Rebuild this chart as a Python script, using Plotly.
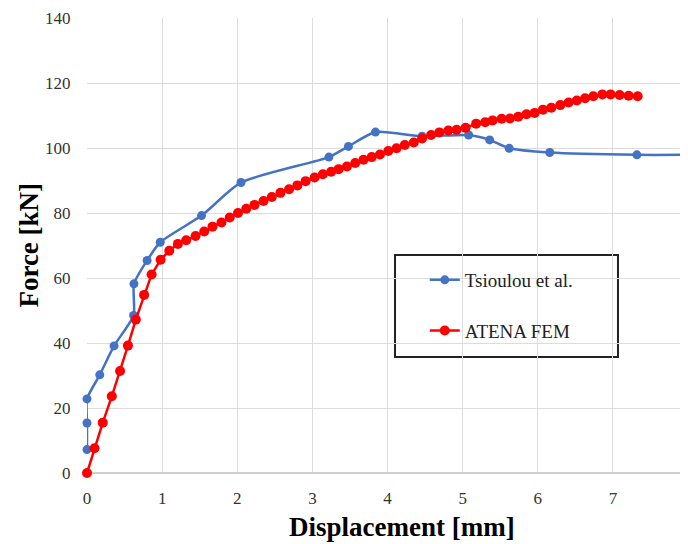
import plotly.graph_objects as go

# Tsioulou et al. (experimental)
tsioulou_x = [0.0, 0.0, 0.0, 0.17, 0.36, 0.62, 0.625, 0.80, 0.975, 1.525, 2.05,
              3.22, 3.48, 3.84, 4.46, 5.08, 5.36, 5.62, 6.16, 7.32, 7.95]
tsioulou_y = [7.2, 15.4, 22.8, 30.2, 39.1, 48.5, 58.2, 65.4, 71.0, 79.2, 89.4,
              97.2, 100.5, 104.9, 103.6, 104.0, 102.5, 99.9, 98.6, 97.9, 97.9]

# ATENA FEM
atena_x = [0.0, 0.10, 0.21, 0.33, 0.44, 0.545, 0.65, 0.76, 0.86, 0.98, 1.095, 1.21,
           1.32, 1.445, 1.56, 1.67, 1.79, 1.90, 2.01, 2.12, 2.23, 2.35, 2.46, 2.575,
           2.69, 2.80, 2.91, 3.03, 3.14, 3.25, 3.35, 3.46, 3.57, 3.68, 3.79, 3.90,
           4.01, 4.12, 4.23, 4.35, 4.46, 4.58, 4.69, 4.81, 4.92, 5.04, 5.18, 5.30,
           5.40, 5.52, 5.63, 5.74, 5.85, 5.96, 6.07, 6.18, 6.30, 6.41, 6.52, 6.63,
           6.74, 6.86, 6.97, 7.09, 7.21, 7.33]
atena_y = [0.0, 7.6, 15.5, 23.6, 31.4, 39.2, 47.2, 54.8, 61.1, 65.6, 68.4, 70.5,
           71.6, 72.9, 74.3, 75.8, 77.1, 78.6, 80.0, 81.3, 82.5, 83.7, 84.9, 86.2,
           87.3, 88.5, 89.8, 90.9, 91.9, 92.7, 93.5, 94.3, 95.4, 96.4, 97.2, 98.0,
           99.1, 99.9, 100.9, 101.7, 102.9, 104.0, 104.8, 105.4, 105.6, 106.2, 107.5, 107.9,
           108.5, 109.0, 109.1, 109.6, 110.4, 110.8, 111.8, 112.4, 113.2, 114.0, 114.6, 115.3,
           115.9, 116.5, 116.5, 116.3, 116.1, 115.9]

x_ticks = [0, 1, 2, 3, 4, 5, 6, 7, 8]
y_ticks = [0, 20, 40, 60, 80, 100, 120, 140]

SERIF = "Liberation Serif"
SANS_NARROW = "Liberation Sans Narrow"

fig = go.Figure()
fig.add_trace(go.Scatter(
    x=tsioulou_x, y=tsioulou_y, mode="lines+markers", name="Tsioulou et al.",
    line=dict(color="#4472C4", width=2.5, shape="spline", smoothing=0.6),
    marker=dict(color="#4472C4", size=9),
    cliponaxis=False, legendgroup="a",
))
fig.add_trace(go.Scatter(
    x=atena_x, y=atena_y, mode="lines+markers", name="ATENA FEM",
    line=dict(color="#FF0000", width=2.5),
    marker=dict(color="#FF0000", size=10),
    cliponaxis=False, legendgroup="b",
))

annotations = [
    dict(text="<b>Displacement [mm]</b>", xref="paper", yref="paper",
         x=0.524, y=-0.118, xanchor="center", yanchor="middle", showarrow=False,
         font=dict(family=SERIF, size=27, color="black")),
    dict(text="<b>Force [kN]</b>", xref="paper", yref="paper",
         x=-0.098, y=0.5, xanchor="center", yanchor="middle", showarrow=False,
         textangle=-90,
         font=dict(family=SERIF, size=27, color="black")),
]
# last x tick label sits on the right edge of the figure (partially visible)
annotations.append(dict(
    text=str(x_ticks[-1]), xref="x", yref="paper", x=x_ticks[-1], y=-0.053,
    xanchor="center", yanchor="middle", showarrow=False,
    font=dict(family=SANS_NARROW, size=17, color="#333333"),
))

fig.update_layout(
    width=680, height=536,
    margin=dict(l=79, r=0, t=10, b=71, autoexpand=False),
    paper_bgcolor="white", plot_bgcolor="white",
    showlegend=True,
    legend=dict(
        x=0.562, y=0.466, xanchor="left", yanchor="top",
        bgcolor="rgba(0,0,0,0)", borderwidth=0,
        font=dict(family=SERIF, size=19, color="#222222"),
        tracegroupgap=23, traceorder="grouped",
    ),
    shapes=[dict(
        type="rect", xref="paper", yref="paper",
        x0=0.5125, x1=0.8835, y0=0.255, y1=0.479,
        line=dict(color="#222222", width=2), fillcolor="white", layer="below",
    )],
    xaxis=dict(
        range=[0, 8], tickvals=x_ticks, ticktext=[str(v) for v in x_ticks],
        showgrid=True, gridcolor="#DCDCDC", gridwidth=1,
        zeroline=False, showline=False, automargin=False,
        ticks="outside", ticklen=10, tickcolor="rgba(0,0,0,0)",
        tickfont=dict(family=SANS_NARROW, size=17, color="#333333"),
    ),
    yaxis=dict(
        range=[0, 140], tickvals=y_ticks, ticktext=[str(v) for v in y_ticks],
        showgrid=True, gridcolor="#DCDCDC", gridwidth=1,
        zeroline=True, zerolinecolor="#D0D0D0", zerolinewidth=1.5, showline=False,
        automargin=False,
        ticks="outside", ticklen=12, tickcolor="rgba(0,0,0,0)",
        tickfont=dict(family=SERIF, size=17, color="#333333"),
    ),
    annotations=annotations,
)

fig.write_html("out.html")
